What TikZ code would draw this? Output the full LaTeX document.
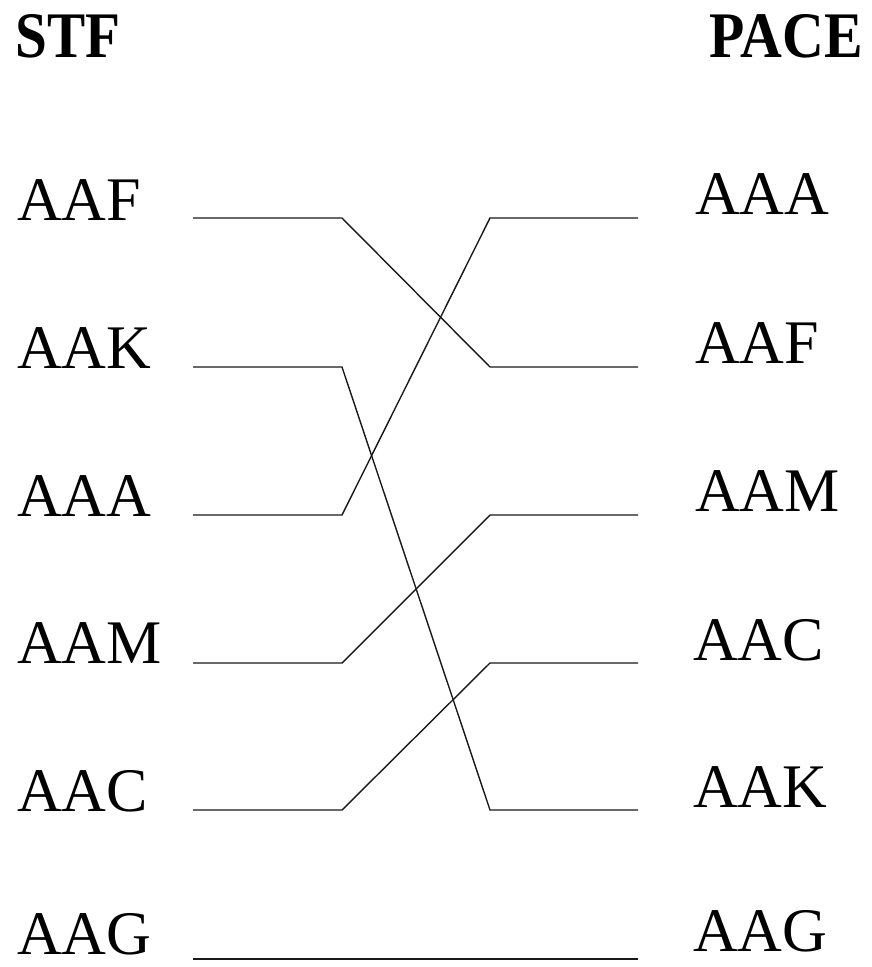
\documentclass[tikz,border=0pt]{standalone}
\usepackage{fontspec}
\setmainfont{Liberation Serif}

\tikzset{
	lbl/.style={font=\fontsize{62}{70}\selectfont,inner sep=0pt,text depth=0pt},
	head/.style={font=\fontsize{65}{70}\selectfont\bfseries,inner sep=0pt},
	wire/.style={black!90,line width=1.4pt}
}

\begin{document}
\begin{tikzpicture}[x=1pt,y=-1pt]
		
		\useasboundingbox (0,0) rectangle (872,967);
		
		% column heads
		\node[head,anchor=base west]
		(stf) at (15,57) {\scalebox{0.88}[1]{STF}};
		
		\node[head,anchor=base east]
		(pace) at (863,57) {\scalebox{0.89}[1]{PACE}};
		
		% left column
		\node[lbl,anchor=base west] (sAAF) at (17,220) {AAF};
		\node[lbl,anchor=base west] (sAAK) at (17,368) {AAK};
		\node[lbl,anchor=base west] (sAAA) at (17,516) {AAA};
		\node[lbl,anchor=base west] (sAAM) at (17,663) {AAM};
		\node[lbl,anchor=base west] (sAAC) at (17,811) {AAC};
		\node[lbl,anchor=base west] (sAAG) at (17,954) {AAG};
		
		% right column
		\node[lbl,anchor=base west] (pAAA) at (695,214) {AAA};
		\node[lbl,anchor=base west] (pAAF) at (695,363) {AAF};
		\node[lbl,anchor=base west] (pAAM) at (695,511) {AAM};
		\node[lbl,anchor=base west] (pAAC) at (693,660) {AAC};
		\node[lbl,anchor=base west] (pAAK) at (693,807) {AAK};
		\node[lbl,anchor=base west] (pAAG) at (693,951) {AAG};
		
		% line ends, left side
		\coordinate (sa1) at (193,218);  \coordinate (sb1) at (342,218);
		\coordinate (sa2) at (193,367);  \coordinate (sb2) at (342,367);
		\coordinate (sa3) at (193,515);  \coordinate (sb3) at (342,515);
		\coordinate (sa4) at (193,663);  \coordinate (sb4) at (342,663);
		\coordinate (sa5) at (193,810);  \coordinate (sb5) at (342,810);
		\coordinate (sa6) at (193,959);
		
		% line ends, right side
		\coordinate (pb1) at (490,218);  \coordinate (pa1) at (638,218);
		\coordinate (pb2) at (490,367);  \coordinate (pa2) at (638,367);
		\coordinate (pb3) at (490,515);  \coordinate (pa3) at (638,515);
		\coordinate (pb4) at (490,663);  \coordinate (pa4) at (638,663);
		\coordinate (pb5) at (490,810);  \coordinate (pa5) at (638,810);
		\coordinate (pa6) at (638,959);
		
		% matches
		\draw[wire] (sa1) -- (sb1) -- (pb2) -- (pa2);
		\draw[wire] (sa2) -- (sb2) -- (pb5) -- (pa5);
		\draw[wire] (sa3) -- (sb3) -- (pb1) -- (pa1);
		\draw[wire] (sa4) -- (sb4) -- (pb3) -- (pa3);
		\draw[wire] (sa5) -- (sb5) -- (pb4) -- (pa4);
		\draw[wire] (sa6) -- (pa6);
		
	\end{tikzpicture}
\end{document}
